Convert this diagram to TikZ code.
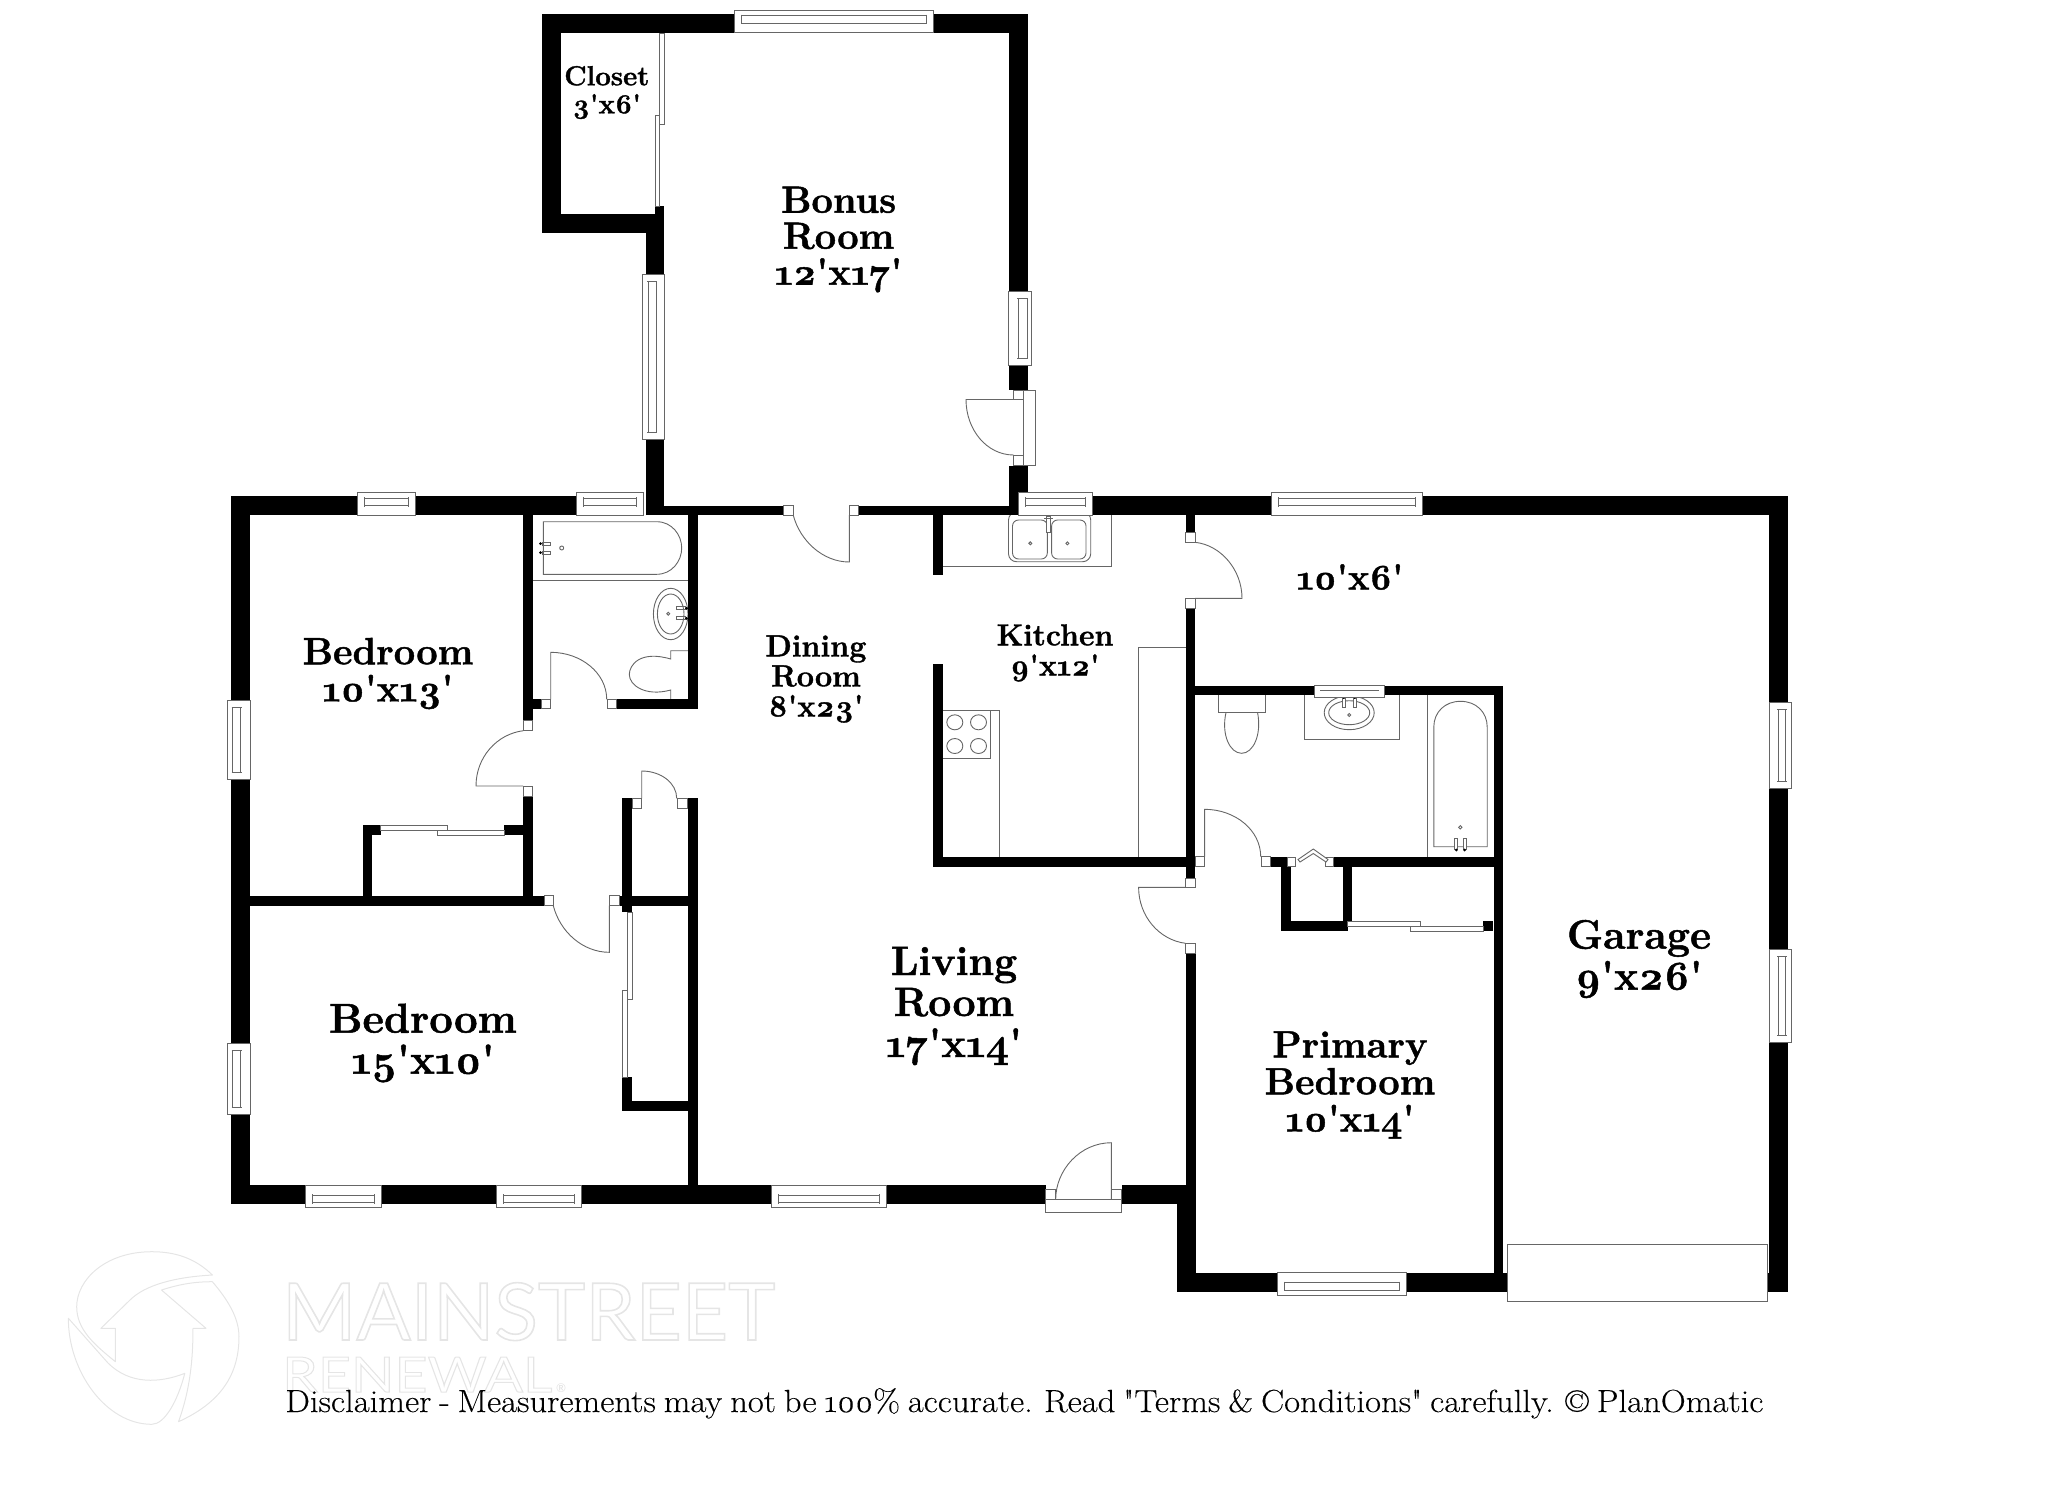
\documentclass[tikz,border=0pt]{standalone}
\usepackage{fontspec}
\setmainfont{Latin Modern Roman}[Numbers=OldStyle,Ligatures=TeXOff,BoldFeatures={FakeBold=1.2}]
\newfontfamily\notefont{Latin Modern Roman}[Numbers=OldStyle,Ligatures=TeXOff,WordSpace=0.75,FakeBold=0.15]
\newfontfamily\markfont{Lato}
\newcommand{\outlined}[1]{\special{pdf:code q 1 Tr 0.2 w 0.9 0.9 0.9 RG}#1\special{pdf:code Q}}

\tikzset{
  wall/.style={fill=black},
  thinline/.style={draw=gray!80!black,line width=0.45pt},
  fixture/.style={thinline,fill=white},
  logoline/.style={draw=black!10,line width=0.5pt,line join=round},
  roomlabel/.style 2 args={align=center,inner sep=0pt,font=\fontsize{#1}{#2}\selectfont\bfseries}
}

\begin{document}
\begin{tikzpicture}[x=0.5pt,y=-0.5pt]
\useasboundingbox (0,0) rectangle (2048,1489);

% watermark
\draw[logoline] (212.4,1275) .. controls (195,1258) and (175,1251.7) .. (151.8,1251.7) .. controls (105,1251.7) and (76.7,1280) .. (76.7,1306.7) .. controls (76.7,1330) and (95,1345) .. (115.4,1361.7) -- (115.4,1328.3) -- (100.9,1328.3) -- (130,1300) .. controls (145,1285) and (175,1277) .. (212.4,1275) -- cycle;
\draw[logoline] (161.5,1290) .. controls (180,1284) and (195,1281.7) .. (212.4,1281.7) .. controls (228,1300) and (239,1318) .. (239,1336.7) .. controls (239,1380) and (215,1405) .. (178.5,1421.7) .. controls (190,1390) and (193,1360) .. (193,1328.3) -- (206,1328.3) -- cycle;
\draw[logoline] (68.4,1318.3) .. controls (68,1370) and (105,1424.3) .. (151.8,1424.3) .. controls (165,1424.3) and (178,1400) .. (184.8,1373.3) .. controls (160,1383) and (130,1385) .. (108,1363) -- cycle;
\node[inner sep=0pt,anchor=base west] (markone) at (281.7,1340) {\resizebox{246.5pt}{28.7pt}{\markfont\outlined{MAINSTREET}}};
\node[inner sep=0pt,anchor=base west] (marktwo) at (281.7,1392) {\resizebox{135pt}{17.5pt}{\markfont\outlined{RENEWAL}}};
\node[inner sep=0pt,text=black!12,font=\markfont\fontsize{6}{6}\selectfont] (markthree) at (561,1388) {®};

% counters and fixtures
\draw[thinline] (943,566.7) -- (1111.7,566.7) -- (1111.7,515);
\draw[thinline] (943,710) -- (999,710) -- (999,856.7);
\draw[thinline] (943,758.3) -- (990.4,758.3) -- (990.4,710);
\draw[thinline] (1138.6,856.7) -- (1138.6,647.3) -- (1185.6,647.3);
\foreach \cx/\cy in {954.8/722.3,978.5/722.3,954.8/746,978.5/746}
    \draw[thinline] (\cx,\cy) ellipse [x radius=8,y radius=7.5];
\draw[thinline,rounded corners=4pt] (1008.5,512) rectangle (1090.7,561.7);
\draw[thinline,rounded corners=3pt] (1012.5,520) rectangle (1047.3,559);
\draw[thinline,rounded corners=3pt] (1051.6,520) rectangle (1086,559);
\draw[fixture] (1046.5,516.7) rectangle (1050.5,532.3);
\draw[thinline] (1044,518) -- (1053,518);
\foreach \cx in {1030.3,1067.4}
    \draw[thinline] (\cx,543.3) circle [radius=1.5];

% first bath
\draw[thinline] (543.3,521.7) -- (656.7,521.7) .. controls (672,521.7) and (681.7,535) .. (681.7,548) .. controls (681.7,561) and (672,574.3) .. (656.7,574.3) -- (543.3,574.3) -- cycle;
\draw[thinline] (532.7,580.7) -- (688.3,580.7);
\draw[thinline] (561.7,548) circle [radius=2];
\foreach \fy in {543.5,552.5} {
    \draw[thinline] (542,\fy-1.5) rectangle (550.5,\fy+1.5);
    \fill (540.5,\fy) circle [radius=1.5];
}
\draw[thinline] (670.7,614) ellipse [x radius=17.3,y radius=25.7];
\draw[thinline] (670.7,614) ellipse [x radius=13.3,y radius=20];
\draw[thinline] (668.3,613.7) circle [radius=1.5];
\foreach \fy in {608.3,618.3} {
    \draw[thinline] (676,\fy-1.5) rectangle (685.5,\fy+1.5);
    \fill (686.5,\fy) circle [radius=1.5];
}
\draw[thinline] (688.3,650.7) -- (670.7,650.7) -- (670.7,659) .. controls (640,650) and (629.3,665) .. (629.3,674.5) .. controls (629.3,685) and (645,697) .. (670.7,690) -- (670.7,699.3);

% second bath
\draw[thinline] (1218.4,695) -- (1218.4,712.3) -- (1265.8,712.3) -- (1265.8,695);
\draw[thinline] (1226,712.3) .. controls (1221,735) and (1230,753.3) .. (1241.7,753.3) .. controls (1253,753.3) and (1262,735) .. (1257.5,712.3);
\draw[thinline] (1304.6,695) -- (1304.6,739) -- (1399.4,739) -- (1399.4,695);
\draw[fixture] (1349.2,712.7) ellipse [x radius=25,y radius=17];
\draw[thinline] (1349.2,712.7) ellipse [x radius=20.5,y radius=12];
\draw[thinline] (1349.2,715) circle [radius=1.5];
\foreach \fx in {1343.5,1354.5} {
    \draw[fixture] (\fx-1.5,698) rectangle (\fx+1.5,707);
    \fill (\fx,697.5) circle [radius=1.5];
}
\draw[thinline] (1427.5,695) -- (1427.5,856.7);
\draw[thinline] (1433.8,846.7) -- (1433.8,727) .. controls (1433.8,712) and (1445,701.3) .. (1460.5,701.3) .. controls (1476,701.3) and (1487.2,712) .. (1487.2,727) -- (1487.2,846.7) -- cycle;
\draw[thinline] (1460.3,827.3) circle [radius=1.7];
\foreach \fx in {1456.4,1464.7} {
    \draw[fixture] (\fx-1.5,838) rectangle (\fx+1.5,849);
    \fill (\fx,850) circle [radius=1.5];
}

% walls
\foreach \xa/\ya/\xb/\yb in {
    542/14/734.3/33, 933.6/14/1027.5/33, 542/14/561.4/233, 542/213.5/664.3/233, 655/206/664.3/233,
    645.7/213.5/664.3/274.8, 645.7/439.4/664.3/515, 1008.6/14/1027.5/291.7, 1008.6/365/1027.5/390,
    1008.6/465.6/1027.5/505.5, 1008.6/505.5/1018/515, 645.7/505.5/783.6/515, 858.6/505.5/1018/515,
    230.7/496/357.3/515, 415/496/576/515, 1092.7/496/1271.8/515, 1422/496/1788/515,
    230.7/496/250/700, 230.7/779/250/1043.7, 230.7/1114.3/250/1204,
    230.7/1185/305.3/1204, 381/1185/496/1204, 581/1185/771.3/1204, 886/1185/1045.5/1204, 1121.6/1185/1186/1204,
    1176.8/1185/1195.5/1292, 1176.8/1272.7/1277.5/1292, 1406/1272.7/1520/1292, 1760/1272.7/1788/1292,
    1768.6/496/1788/702.7, 1768.6/788.7/1788/949.3, 1768.6/1042.3/1788/1292,
    523/515/532.7/720, 532.7/699.3/541/708.7, 616.7/699.3/697.7/708.7, 688.3/515/697.7/708.7,
    523/796/532.7/905.7, 362.7/825.3/372.3/905.7, 362.7/825.3/380.7/835, 504/825.3/523/835,
    250/895.7/544/905.7, 619.3/895.7/697.7/905.7, 622.3/798.3/632/912.3,
    622.3/1077.3/632/1110.7, 622.3/1100.7/688.3/1110.7, 688.3/798.3/697.7/1185,
    933/515/943/575, 933/664/943/866.7, 933/856.7/1185.6/866.7,
    1185.6/515/1195/532.7, 1185.6/608.3/1195/878.3, 1186/953.3/1195.5/1185,
    1270.7/856.7/1287.3/866.7, 1280.7/856.7/1290.7/930.7, 1280.7/921.3/1347.7/930.7,
    1342.7/856.7/1352.3/921.3, 1333.3/856.7/1503/866.7, 1483.3/921.3/1493.3/931,
    1195/685.7/1314/695, 1384.4/685.7/1503/695, 1493.5/685.7/1503/1272.7}
    \fill[wall] (\xa,\ya) rectangle (\xb,\yb);

% windows along a horizontal wall
\foreach \xa/\xb/\ya/\yb/\yc/\yd in {
    734.3/933.6/10.3/32.7/15.5/23, 357.3/415/492.7/515/498.3/505.7, 576/643.7/492.7/515/498.3/505.7,
    1018/1092.7/492.7/515/498.3/505.7, 1271.8/1422/492.7/515/498.3/505.7,
    305.3/381/1185/1207.3/1195/1202.7, 496/581/1185/1207.3/1195/1202.7, 771.3/886/1185/1207.3/1195/1202.7,
    1277.5/1406/1272.7/1295/1282.7/1290} {
    \draw[fixture] (\xa,\ya) rectangle (\xb,\yb);
    \draw[thinline] (\xa+7,\yc-1) -- (\xa+7,\yd+1) (\xb-7,\yc-1) -- (\xb-7,\yd+1);
    \draw[thinline] (\xa+7,\yc) -- (\xb-7,\yc) (\xa+7,\yd) -- (\xb-7,\yd);
}
% windows along a vertical wall
\foreach \ya/\yb/\xa/\xb/\xc/\xd in {
    274.8/439.4/642.5/664.3/648/656, 291.7/365/1008.6/1031/1018/1027,
    700/779/227.7/250/232.7/240.7, 1043.7/1114.3/227.7/250/232.7/240.7,
    702.7/788.7/1769/1791/1778.3/1785.7, 949.3/1042.3/1769/1791/1778.3/1785.7} {
    \draw[fixture] (\xa,\ya) rectangle (\xb,\yb);
    \draw[thinline] (\xc-1,\ya+7) -- (\xd+1,\ya+7) (\xc-1,\yb-7) -- (\xd+1,\yb-7);
    \draw[thinline] (\xc,\ya+7) -- (\xc,\yb-7) (\xd,\ya+7) -- (\xd,\yb-7);
}
% sink window
\draw[fixture] (1314,685.7) rectangle (1384.4,697.3);
\draw[thinline] (1320,690.5) -- (1378.5,690.5);

% sliding doors
\foreach \xa/\ya/\xb/\yb in {
    380.7/825.3/447.3/830, 437.3/830/504/835, 1347.7/921.3/1420.7/926, 1410.7/926/1483.3/931,
    659.3/33/664.3/124, 655/115.4/659.3/206, 627.3/912.3/632/999.3, 622.3/990/627.3/1077.3}
    \draw[fixture] (\xa,\ya) rectangle (\xb,\yb);

% door frames and jambs
\foreach \xa/\ya/\xb/\yb in {
    1023/390/1035.7/465.6, 1045.5/1199.3/1121.6/1212.3,
    783.6/505.5/793.2/515, 849.3/505.5/858.6/515, 541/699.3/550.7/708.7, 607.3/699.3/616.7/708.7,
    523/720/532.7/730, 523/786/532.7/796, 632/798.3/641.7/808.3, 677.7/798.3/687.3/808.3,
    544/895.7/553.3/905.7, 609.3/895.7/619.3/905.7, 1185.6/532.7/1195/542.3, 1185.6/598.3/1195/608.3,
    1185.6/878.3/1195/887.3, 1185.6/943.3/1195/953.3, 1195/856.7/1204.6/866.7, 1261.3/856.7/1270.7/866.7,
    1287.3/857.7/1295.3/866, 1325.7/857.7/1333.3/866, 1013.6/390/1023/399.5, 1013.6/455/1023/465.6,
    1045.5/1189.3/1055.7/1199.3, 1111.4/1189.3/1121.6/1199.3}
    \draw[fixture] (\xa,\ya) rectangle (\xb,\yb);
\draw[fixture] (1298,859.5) -- (1313.3,849) -- (1328,859.5) -- (1326,862) -- (1313.3,853.5) -- (1300,862) -- cycle;

% door swings
\draw[thinline] (1013.6,399.5) -- (966,399.5) .. controls (966,430) and (987,455) .. (1013.6,455);
\draw[thinline] (793.2,515) .. controls (800,541) and (823,562) .. (849.3,562) -- (849.3,515);
\draw[thinline] (550.7,699.3) -- (550.7,652.3) .. controls (581,652.3) and (606.7,673) .. (606.7,699.3);
\draw[thinline] (523.3,730.7) .. controls (497,734) and (476,757) .. (476,786) -- (523,786);
\draw[thinline] (641.7,798.3) -- (641.7,771) .. controls (661,771) and (676.7,783) .. (676.7,798.3);
\draw[thinline] (553.3,905.7) .. controls (560,932) and (583,952.3) .. (609.3,952.3) -- (609.3,905.7);
\draw[thinline] (1111.4,1199.3) -- (1111.4,1142.7) .. controls (1080,1142.7) and (1055.7,1170) .. (1055.7,1199.3);
\draw[thinline] (1195,542.3) .. controls (1221,545) and (1242,570) .. (1242,598.3) -- (1195,598.3);
\draw[thinline] (1185.6,887.3) -- (1138.6,887.3) .. controls (1138.6,916) and (1159,940) .. (1185.6,943.3);
\draw[thinline] (1204.6,856.7) -- (1204.6,809.3) .. controls (1235,809.3) and (1260.7,830) .. (1260.7,856.7);

% garage door
\draw[fixture] (1507.2,1244.3) rectangle (1767.5,1301.3);

% room labels
\node[roomlabel={13.8}{14}] (closet) at (606.8,92.5) {Closet\\3'x6'};
\node[roomlabel={19}{18}] (bonus) at (838.6,239.5) {Bonus\\Room\\12'x17'};
\node[roomlabel={19}{18.5}] (bedroomone) at (388,673.5) {Bedroom\\10'x13'};
\node[roomlabel={20.9}{20.5}] (bedroomtwo) at (423,1043) {Bedroom\\15'x10'};
\node[roomlabel={18}{18}] (garageside) at (1350,577) {10'x6'};
\node[roomlabel={15.1}{15}] (kitchen) at (1055,653) {Kitchen\\9'x12'};
\node[roomlabel={15.3}{15}] (dining) at (816,679) {Dining\\Room\\8'x23'};
\node[roomlabel={20.5}{20.5}] (living) at (954,1006) {Living\\Room\\17'x14'};
\node[roomlabel={19}{18.5}] (primary) at (1350,1085) {Primary\\Bedroom\\10'x14'};
\node[roomlabel={20.5}{20.5}] (garage) at (1639,959) {Garage\\9'x26'};

\node[inner sep=0pt,anchor=base west,font=\notefont\fontsize{16}{16}\selectfont] (disclaimer) at (285,1412)
    {\resizebox{739pt}{\height}{Disclaimer - Measurements may not be 100\% accurate. Read "Terms \& Conditions" carefully. © PlanOmatic}};

\end{tikzpicture}
\end{document}
